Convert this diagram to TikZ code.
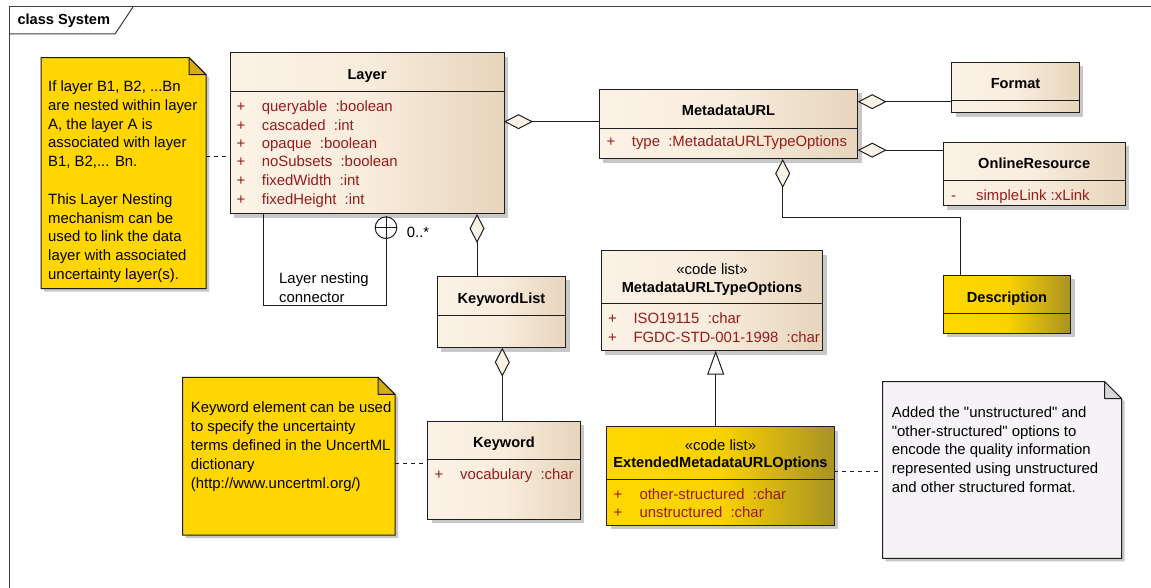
\documentclass[tikz,border=0pt]{standalone}
\usepackage{fontspec}
\setmainfont{Liberation Sans}
\usetikzlibrary{arrows.meta,shadows}
\definecolor{clsL}{RGB}{251,242,230}
\definecolor{clsM}{RGB}{248,236,220}
\definecolor{clsR}{RGB}{231,213,188}
\definecolor{ylwL}{RGB}{255,215,0}
\definecolor{ylwM}{RGB}{250,210,0}
\definecolor{ylwR}{RGB}{168,146,36}
\definecolor{noteY}{RGB}{255,214,0}
\definecolor{foldY}{RGB}{212,172,12}
\definecolor{noteP}{RGB}{246,243,247}
\definecolor{foldP}{RGB}{214,214,220}
\definecolor{attrred}{RGB}{150,28,28}
\definecolor{shd}{RGB}{200,200,200}
\definecolor{edge}{RGB}{30,30,30}
\newcommand\drawnote[3]{%
  \fill[shd] ([shift={(3pt,-3pt)}]#1.north west) -- ([shift={(-14pt,-3pt)}]#1.north east) -- ([shift={(3pt,-20pt)}]#1.north east) -- ([shift={(3pt,-3pt)}]#1.south east) -- ([shift={(3pt,-3pt)}]#1.south west) -- cycle;
  \draw[draw=edge, line width=1pt, fill=#2] (#1.north west) -- ([xshift=-17pt]#1.north east) -- ([yshift=-17pt]#1.north east) -- (#1.south east) -- (#1.south west) -- cycle;
  \draw[draw=edge, line width=1pt, fill=#3, line join=round] ([xshift=-17pt]#1.north east) -- ([xshift=-17pt,yshift=-17pt]#1.north east) -- ([yshift=-17pt]#1.north east) -- cycle;
}
\newcommand\qq{\textquotedbl}
\begin{document}
\begin{tikzpicture}[x=1pt,y=-1pt,
  every node/.style={font=\fontsize{14.9pt}{18.8pt}\selectfont},
  cls/.style={draw=edge, line width=1pt, inner sep=0pt, outer sep=0pt, anchor=north west,
    left color=clsL, right color=clsR, middle color=clsM,
    drop shadow={shadow xshift=4pt, shadow yshift=-4pt, fill=shd, opacity=1}},
  ycls/.style={cls, left color=ylwL, right color=ylwR, middle color=ylwM},
  notebox/.style={anchor=north west, inner sep=0pt, outer sep=0pt},
  title/.style={anchor=base, inner sep=0pt, font=\fontsize{14.6pt}{18.8pt}\selectfont\bfseries},
  stereo/.style={anchor=base, inner sep=0pt},
  attr/.style={anchor=base west, inner sep=0pt, text=attrred},
  notetext/.style={anchor=north west, inner sep=0pt, align=left},
  sepline/.style={draw=edge, line width=1pt},
  conn/.style={draw=edge, line width=1pt},
  aggr/.style={-{Diamond[length=29pt,width=15pt,fill=clsL]}},
  gen/.style={-{Triangle[length=24pt,width=17pt,fill=white]}},
  dashline/.style={draw=edge, line width=1pt, dash pattern=on 4pt off 4pt}
]
\useasboundingbox (0,0) rectangle (1151,588);

% frame
\draw[draw=black!75, line width=1pt] (9,590) -- (9,7) -- (1153,7);
\draw[draw=black!75, line width=1pt] (9,34) -- (115,34) -- (133,7);
\node[anchor=base west, inner sep=0pt, font=\fontsize{14.6pt}{18.8pt}\selectfont\bfseries] (frametitle) at (17.3,25) {class System};

% notes
\node[notebox, minimum width=165pt, minimum height=231pt] (note1) at (41,57.7) {};
\drawnote{note1}{noteY}{foldY}
\node[notetext] (note1t) at (48,80.6) {If layer B1, B2, ...Bn\\are nested within layer\\A, the layer A is\\associated with layer\\B1, B2,... Bn.\\[18.8pt]This Layer Nesting\\mechanism can be\\used to link the data\\layer with associated\\uncertainty layer(s).};

\node[notebox, minimum width=212.3pt, minimum height=157.7pt] (note2) at (182.7,377.3) {};
\drawnote{note2}{noteY}{foldY}
\node[notetext] (note2t) at (190.7,401.9) {Keyword element can be used\\to specify the uncertainty\\terms defined in the UncertML\\dictionary\\(http://www.uncertml.org/)};

\node[notebox, minimum width=239pt, minimum height=176.6pt] (note3) at (882.7,381.7) {};
\drawnote{note3}{noteP}{foldP}
\node[notetext] (note3t) at (891.7,406.3) {Added the \qq unstructured\qq{} and\\\qq other-structured\qq{} options to\\encode the quality information\\represented using unstructured\\and other structured format.};

% Layer
\node[cls, minimum width=274pt, minimum height=161pt] (Layer) at (230,53) {};
\draw[sepline] (230,91.7) -- (504,91.7);
\node[title] (tLayer) at (367,79.3) {Layer};
\foreach \y/\t [count=\i] in {106/{queryable \ :boolean}, 125/{cascaded \ :int}, 143.3/{opaque \ :boolean}, 161.7/{noSubsets \ :boolean}, 180/{fixedWidth \ :int}, 199/{fixedHeight \ :int}}{
  \node[attr] (Lp\i) at (236.5,\y+5.2) {+};
  \node[attr] (La\i) at (261.7,\y+5.2) {\t};
}

% MetadataURL
\node[cls, minimum width=258.4pt, minimum height=69.7pt] (MetadataURL) at (599.3,89.3) {};
\draw[sepline] (599.3,128.3) -- (857.7,128.3);
\node[title] (tMURL) at (728.5,115.2) {MetadataURL};
\node[attr] (Mp1) at (606.5,146.9) {+};
\node[attr] (Ma1) at (631.7,146.9) {type \ :MetadataURLTypeOptions};

% Format
\node[cls, minimum width=127.6pt, minimum height=50.4pt] (Format) at (951.7,62.3) {};
\draw[sepline] (951.7,100.7) -- (1079.3,100.7);
\node[title] (tFormat) at (1015.5,88.5) {Format};

% OnlineResource
\node[cls, minimum width=181.7pt, minimum height=63.7pt] (OnlineResource) at (943.3,142.3) {};
\draw[sepline] (943.3,180.3) -- (1125,180.3);
\node[title] (tOR) at (1034.2,168.5) {OnlineResource};
\node[attr] (Op1) at (951,200.9) {-};
\node[attr] (Oa1) at (976,200.9) {simpleLink :xLink};

% Description
\node[ycls, minimum width=127.4pt, minimum height=58.3pt] (Description) at (943.3,275) {};
\draw[sepline] (943.3,313.3) -- (1070.7,313.3);
\node[title] (tDesc) at (1007,302.5) {Description};

% MetadataURLTypeOptions
\node[cls, minimum width=221.7pt, minimum height=100pt] (MTO) at (601,250.7) {};
\draw[sepline] (601,303.3) -- (822.7,303.3);
\node[stereo] (sMTO) at (712,274.2) {«code list»};
\node[title] (tMTO) at (712,292.5) {MetadataURLTypeOptions};
\node[attr] (Tp1) at (608,323.5) {+};
\node[attr] (Ta1) at (633.3,323.5) {ISO19115 \ :char};
\node[attr] (Tp2) at (608,342.5) {+};
\node[attr] (Ta2) at (633.3,342.5) {FGDC-STD-001-1998 \ :char};

% ExtendedMetadataURLOptions
\node[ycls, minimum width=227.6pt, minimum height=98.3pt] (Ext) at (606.7,426.7) {};
\draw[sepline] (606.7,479.3) -- (834.3,479.3);
\node[stereo] (sExt) at (720.5,450.2) {«code list»};
\node[title] (tExt) at (720.5,467.9) {ExtendedMetadataURLOptions};
\node[attr] (Ep1) at (613.5,499.2) {+};
\node[attr] (Ea1) at (639.3,499.2) {other-structured \ :char};
\node[attr] (Ep2) at (613.5,517.9) {+};
\node[attr] (Ea2) at (639.3,517.9) {unstructured \ :char};

% KeywordList
\node[cls, minimum width=128.4pt, minimum height=71.7pt] (KeywordList) at (437.3,276) {};
\draw[sepline] (437.3,315) -- (565.7,315);
\node[title] (tKL) at (501.5,303.5) {KeywordList};

% Keyword
\node[cls, minimum width=152.3pt, minimum height=98.3pt] (Keyword) at (427.7,421) {};
\draw[sepline] (427.7,459.3) -- (580,459.3);
\node[title] (tKw) at (504,447.9) {Keyword};
\node[attr] (Kp1) at (434.5,479.5) {+};
\node[attr] (Ka1) at (460,479.5) {vocabulary \ :char};

% connectors
\coordinate (c1) at ([yshift=2.5pt]MetadataURL.west);
\draw[conn,aggr] (c1) -- (c1 -| Layer.east);
\coordinate (c2) at ([yshift=-14.2pt]Format.west);
\draw[conn,aggr] (c2) -- (c2 -| MetadataURL.east);
\coordinate (c3) at ([yshift=24pt]OnlineResource.west);
\draw[conn,aggr] (c3) -- (c3 -| MetadataURL.east);
\coordinate (c4) at ([xshift=-46.7pt]Description.north);
\coordinate (c4b) at ([xshift=54.2pt]MetadataURL.south);
\draw[conn,aggr] (c4) -- ++(0,-57.3) -| (c4b);
\coordinate (c5) at ([xshift=-24.5pt]KeywordList.north);
\draw[conn,aggr] (c5) -- (c5 |- Layer.south);
\coordinate (c6) at ([xshift=0.8pt]KeywordList.south);
\draw[conn,aggr] (c6 |- Keyword.north) -- (c6);
\coordinate (c7) at ([xshift=-4.8pt]Ext.north);
\draw[conn,gen] (c7) -- (c7 |- MTO.south);

% layer nesting
\node[draw=edge, line width=1pt, circle, minimum size=21.6pt, inner sep=0pt, fill=white] (nest) at (386,227.7) {};
\coordinate (c8) at ([xshift=-104pt]Layer.south);
\draw[conn] (c8) -- ++(0,91) -| (nest.south);
\draw[conn] (nest.north) -- (nest.south) (nest.west) -- (nest.east);
\node[anchor=base west, inner sep=0pt] (mult) at (406.7,237.9) {0..*};
\node[anchor=north west, inner sep=0pt, align=left] (nestlbl) at (279,273) {Layer nesting\\connector};

% note links
\coordinate (d1) at ([yshift=16.2pt]note1.east);
\draw[dashline] (d1) -- (d1 -| Layer.west);
\coordinate (d2) at ([yshift=-7.8pt]note2.east);
\draw[dashline] (d2) -- (d2 -| Keyword.west);
\coordinate (d3) at ([yshift=4.2pt]Ext.east);
\draw[dashline] (d3) -- (d3 -| note3.west);
\end{tikzpicture}
\end{document}
